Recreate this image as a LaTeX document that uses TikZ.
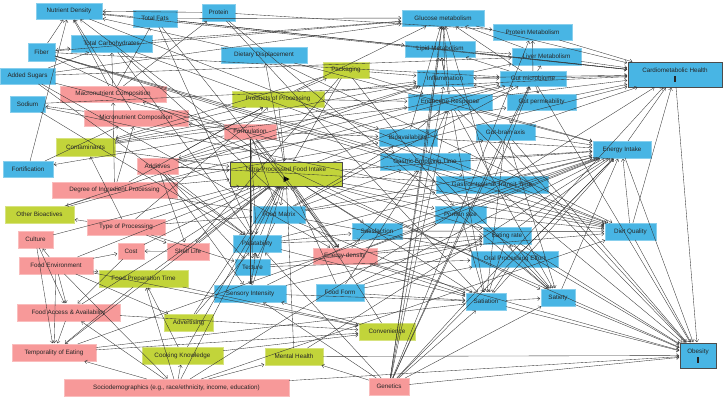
\documentclass[tikz,border=0pt]{standalone}
\usepackage{fontspec}
\setmainfont{Liberation Sans}
\usetikzlibrary{arrows.meta}
\definecolor{cblue}{RGB}{72,181,228}
\definecolor{cpink}{RGB}{247,153,153}
\definecolor{cgreen}{RGB}{194,212,58}
\tikzset{
 box/.style={inner sep=0pt, outer sep=0pt, align=center, font=\fontsize{6.3}{7}\selectfont, text=black!85},
 bluebox/.style={box, fill=cblue, draw=cblue!65!white, line width=0.6pt},
 pinkbox/.style={box, fill=cpink, draw=cpink!65!white, line width=0.6pt},
 greenbox/.style={box, fill=cgreen, draw=cgreen!65!white, line width=0.6pt},
 keybox/.style={draw=black!70, line width=0.9pt},
 edge/.style={draw=black!80, line width=0.35pt, -{Straight Barb[length=2.4pt,width=4pt]}, shorten >=0.8pt},
 biedge/.style={draw=black!80, line width=0.35pt, {Straight Barb[length=2.4pt,width=4pt]}-{Straight Barb[length=2.4pt,width=4pt]}, shorten >=0.8pt, shorten <=0.8pt}
}
\newcommand\mkbox[7]{\node[#1, minimum width={(#5-#3)*1pt}, minimum height={(#6-#4)*1pt}] (#2) at ({(#3+#5)/2},{(#4+#6)/2}) {#7};}
\begin{document}
\begin{tikzpicture}[x=1pt,y=-1pt]
\useasboundingbox[fill=white] (0,0) rectangle (723,402);
% nodes
\mkbox{bluebox}{nd}{36}{3}{102}{19}{Nutrient Density}
\mkbox{bluebox}{tf}{133}{10}{177}{27}{Total Fats}
\mkbox{bluebox}{pr}{202}{4}{235}{21}{Protein}
\mkbox{bluebox}{fib}{28}{43}{55}{61}{Fiber}
\mkbox{bluebox}{tc}{71}{35}{152}{52}{Total Carbohydrates}
\mkbox{bluebox}{asug}{0}{68}{55}{84}{Added Sugars}
\mkbox{bluebox}{sod}{10}{96}{45}{112}{Sodium}
\mkbox{pinkbox}{mac}{60}{86}{166}{102}{Macronutrient Composition}
\mkbox{pinkbox}{mic}{84}{110}{188}{126}{Micronutrient Composition}
\mkbox{bluebox}{dd}{221}{47}{307}{63}{Dietary Displacement}
\mkbox{greenbox}{pack}{323}{62}{369}{78}{Packaging}
\mkbox{greenbox}{pop}{232}{91}{324}{107}{Products of Processing}
\mkbox{pinkbox}{form}{224}{124}{276}{139}{Formulation}
\mkbox{bluebox}{glu}{402}{10}{484}{26}{Glucose metabolism}
\mkbox{bluebox}{pm}{493}{24}{572}{40}{Protein Metabolism}
\mkbox{bluebox}{lm}{405}{41}{475}{57}{Lipid Metabolism}
\mkbox{bluebox}{liv}{512}{48}{581}{65}{Liver Metabolism}
\mkbox{bluebox}{inf}{417}{70}{473}{86}{Inflammation}
\mkbox{bluebox}{gm}{500}{71}{566}{86}{Gut microbiome}
\mkbox{bluebox}{er}{408}{94}{492}{110}{Endocrine Response}
\mkbox{bluebox}{gp}{507}{94}{576}{110}{Gut permeability}
\mkbox{bluebox}{gba}{476}{124}{535}{140}{Gut-brain axis}
\mkbox{bluebox}{bio}{379}{129}{437}{146}{Bioavailability}
\mkbox{bluebox,keybox}{cmh}{628}{62}{722}{87}{Cardiometabolic Health\\[2.5pt]\rule{1.8pt}{5.5pt}}
\mkbox{greenbox}{cont}{56}{138}{115}{156}{Contaminants}
\mkbox{bluebox}{fort}{3}{161}{53}{177}{Fortification}
\mkbox{pinkbox}{add}{137}{158}{178}{174}{Additives}
\mkbox{pinkbox}{dip}{52}{182}{177}{198}{Degree of Ingredient Processing}
\mkbox{greenbox}{ob}{5}{206}{74}{223}{Other Bioactives}
\mkbox{pinkbox}{tproc}{87}{219}{165}{235}{Type of Processing}
\mkbox{pinkbox}{cul}{18}{231}{53}{248}{Culture}
\mkbox{pinkbox}{cost}{118}{243}{144}{259}{Cost}
\mkbox{pinkbox}{sl}{167}{243}{209}{260}{Shelf Life}
\mkbox{pinkbox}{fe}{19}{257}{93}{274}{Food Environment}
\mkbox{greenbox,keybox}{upf}{230}{162}{342}{186}{Ultra-Processed Food Intake\\[2.5pt]\rule{0pt}{5.5pt}}
\mkbox{bluebox}{fm}{253}{206}{305}{223}{Food Matrix}
\mkbox{bluebox}{pal}{233}{235}{281}{252}{Palatability}
\mkbox{bluebox}{tex}{235}{259}{270}{275}{Texture}
\mkbox{pinkbox}{ed}{313}{248}{377}{264}{Energy density}
\mkbox{bluebox}{sat}{352}{223}{402}{239}{Satisfaction}
\mkbox{bluebox}{get}{380}{153}{470}{170}{Gastric Emptying Time}
\mkbox{bluebox}{gitt}{436}{176}{548}{193}{Gastrointestinal Transit Time}
\mkbox{bluebox}{ps}{435}{206}{486}{223}{Portion size}
\mkbox{bluebox}{eatr}{483}{227}{531}{244}{Eating rate}
\mkbox{bluebox}{ope}{471}{251}{558}{267}{Oral Processing Effort}
\mkbox{bluebox}{ei}{593}{141}{651}{158}{Energy Intake}
\mkbox{bluebox}{dq}{605}{223}{656}{240}{Diet Quality}
\mkbox{greenbox}{fpt}{99}{270}{188}{287}{Food Preparation Time}
\mkbox{pinkbox}{faa}{17}{304}{120}{321}{Food Access \& Availability}
\mkbox{greenbox}{adv}{164}{314}{213}{331}{Advertising}
\mkbox{pinkbox}{toe}{12}{344}{96}{361}{Temporality of Eating}
\mkbox{greenbox}{ck}{142}{347}{223}{364}{Cooking Knowledge}
\mkbox{pinkbox}{socio}{64}{379}{289}{396}{Sociodemographics (e.g., race/ethnicity, income, education)}
\mkbox{bluebox}{si}{214}{285}{286}{302}{Sensory Intensity}
\mkbox{bluebox}{ff}{316}{284}{364}{301}{Food Form}
\mkbox{greenbox}{mh}{265}{348}{323}{365}{Mental Health}
\mkbox{greenbox}{conv}{359}{323}{415}{340}{Convenience}
\mkbox{bluebox}{stn}{466}{293}{506}{310}{Satiation}
\mkbox{pinkbox}{gen}{369}{378}{409}{395}{Genetics}
\mkbox{bluebox}{sty}{541}{289}{575}{306}{Satiety}
\mkbox{bluebox,keybox}{obs}{680}{343}{716}{368}{Obesity\\[2.5pt]\rule{1.8pt}{5.5pt}}
% exposure marker
\fill[black] (283.5,176) -- (283.5,182) -- (289.5,179) -- cycle;
% edges
\foreach \a/\b in {tf/nd, pr/nd, asug/tc, mac/tf, mac/tc, mac/pr, mac/nd, mic/nd, mic/sod, fort/nd, fort/mic, form/fort, fib/nd,
 tf/lm, tf/glu, tf/ed, tf/pal, tf/cmh, tc/glu, tc/ed, tc/pal, tc/dq, asug/glu, asug/pal, asug/ed, asug/liv, asug/dq,
 fib/gm, fib/get, fib/sty, fib/glu, fib/dq, fib/gitt, pr/pm, pr/sty, pr/stn, sod/cmh, sod/dq, sod/pal, nd/dq, nd/cmh,
 upf/dd, dd/dq, dd/ei, dd/nd,
 pop/pack, pack/cont, pack/sl, pack/er, pack/inf, pack/ps, pack/upf,
 tproc/pop, dip/pop, pop/inf, pop/glu, pop/er, pop/upf, pop/bio, add/pop,
 form/mac, form/mic, form/add, form/ed, form/upf, form/pal, form/tex, form/bio, form/si, form/fm,
 glu/cmh, inf/glu, er/glu, gm/glu, gen/glu, liv/glu, bio/glu, get/glu, gitt/glu,
 gm/pm, pm/cmh, gen/pm, inf/lm, er/lm, gm/lm, gen/lm, lm/cmh, lm/liv, liv/cmh, inf/liv, gm/liv,
 gp/inf, cont/inf, add/inf, inf/cmh, inf/obs, ob/inf,
 add/gm, fm/gm, gm/gp, gm/gba, gm/cmh, cont/gm, ob/gm, gitt/gm, gen/gm, upf/gm, gm/obs,
 er/ei, er/cmh, er/obs, er/stn, er/sty, cont/er, get/er, gen/er, bio/er,
 add/gp, gp/cmh, gba/ei, gba/sty, gba/stn, gba/obs, get/gba, gen/gba, gba/cmh,
 fm/bio, dip/bio, bio/ei, fm/get, ff/get, ed/get, get/sty, get/ei, fm/gitt, add/gitt, gitt/ei, gitt/obs,
 upf/ps, ed/ps, ps/ei, ps/obs, ps/dq, ps/stn,
 tex/eatr, ope/eatr, ff/eatr, eatr/ei, eatr/stn, eatr/obs, eatr/sty, pal/eatr,
 tex/ope, ff/ope, fm/ope, ope/stn, ope/ei, ope/sty,
 pal/sat, si/sat, sat/ei, sat/dq, upf/sat,
 ed/stn, pal/stn, si/stn, ff/stn, fm/stn, gen/stn, toe/stn, stn/ei, stn/obs, stn/sty, upf/stn,
 sty/ei, sty/obs, gen/sty, ei/obs, ei/cmh, dq/ei, dq/cmh, dq/obs, ed/ei, ed/obs, ed/dq,
 dip/fm, tproc/fm, fm/tex, fm/ei, add/pal, tex/pal, si/pal, pal/upf, pal/ei, gen/pal,
 add/tex, tex/si, tproc/tex, add/si, si/upf, si/eatr, gen/si, ff/ei, ff/upf,
 add/upf, dip/upf, tproc/upf, cost/upf, sl/upf, fe/upf, faa/upf, fpt/upf, adv/upf, conv/upf, ck/upf, mh/upf, socio/upf, toe/upf, cul/upf, cont/upf,
 upf/ei, upf/dq, upf/obs, upf/cmh, upf/nd, upf/eatr, upf/ed,
 tproc/cont, pop/cont, dip/ob, tproc/ob, dip/mic, dip/mac, tproc/sl,
 fe/cul, cul/toe, cul/faa, fe/cost, sl/cost, cost/faa, add/sl,
 fe/faa, fe/toe, fe/adv, fe/socio, fe/conv, fe/fpt, faa/toe, faa/conv, fpt/conv, fpt/toe, adv/pal,
 toe/conv, toe/ei, ck/fpt, ck/conv,
 socio/toe, socio/faa, socio/fpt, socio/ck, socio/mh, socio/obs, socio/dq, socio/cmh,
 mh/ei, mh/obs, conv/si, gen/mh, gen/obs, gen/cmh, gen/ei, gen/inf, cmh/obs}
 \draw[edge] (\a) -- (\b);
\foreach \a/\b in {gm/inf, upf/fm, tc/fib}
 \draw[biedge] (\a) -- (\b);
\end{tikzpicture}
\end{document}
